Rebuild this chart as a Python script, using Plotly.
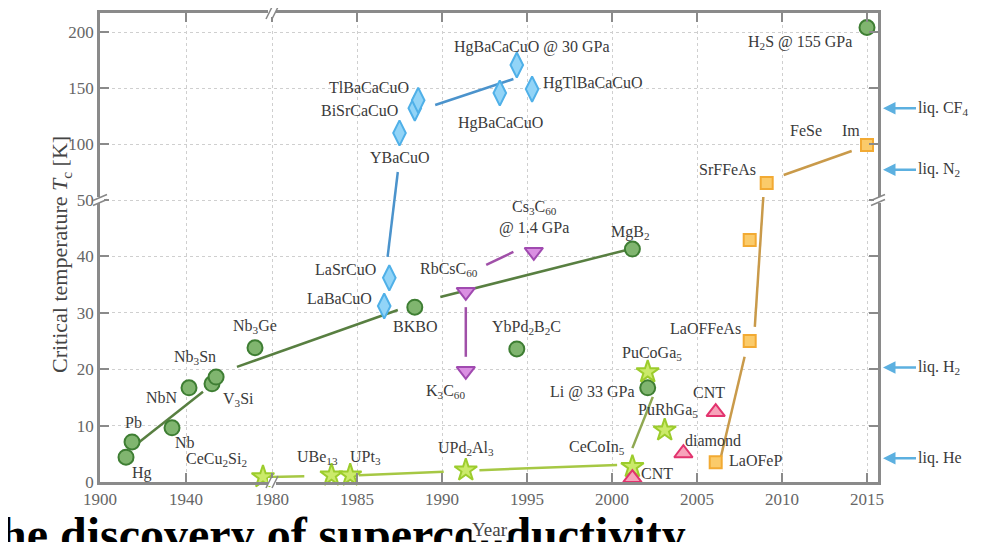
import plotly.graph_objects as go

# ---------------- data (year, Tc in K) ----------------
conv_names = ["Hg", "Pb", "Nb", "NbN", "V<sub>3</sub>Si", "Nb<sub>3</sub>Sn", "Nb<sub>3</sub>Ge", "BKBO",
              "YbPd<sub>2</sub>B<sub>2</sub>C", "MgB<sub>2</sub>", "Li @ 33 GPa", "H<sub>2</sub>S @ 155 GPa"]
conv_year = [1912.1, 1914.9, 1933.5, 1941.4, 1952.1, 1954.0, 1972.1, 1988.4, 1994.4, 2001.2, 2002.1, 2015.0]
conv_tc = [4.4, 7.1, 9.6, 16.7, 17.4, 18.6, 23.8, 31.0, 23.6, 41.3, 16.7, 204]

cup_names = ["LaBaCuO", "LaSrCuO", "YBaCuO", "BiSrCaCuO", "TlBaCaCuO", "HgBaCaCuO",
             "HgBaCaCuO @ 30 GPa", "HgTlBaCaCuO"]
cup_year = [1986.6, 1986.9, 1987.5, 1988.4, 1988.6, 1993.4, 1994.4, 1995.3]
cup_tc = [31.2, 36.2, 109.8, 132, 139, 145.5, 170.5, 149]

ful_names = ["RbCsC<sub>60</sub>", "K<sub>3</sub>C<sub>60</sub>", "Cs<sub>3</sub>C<sub>60</sub><br>@ 1.4 GPa"]
ful_year = [1991.4, 1991.4, 1995.4]
ful_tc = [33.7, 19.7, 40.8]

hf_names = ["CeCu<sub>2</sub>Si<sub>2</sub>", "UBe<sub>13</sub>", "UPt<sub>3</sub>", "UPd<sub>2</sub>Al<sub>3</sub>",
            "CeCoIn<sub>5</sub>", "PuCoGa<sub>5</sub>", "PuRhGa<sub>5</sub>"]
hf_year = [1975.8, 1983.5, 1984.6, 1991.4, 2001.2, 2002.1, 2003.1]
hf_tc = [0.9, 1.2, 1.2, 2.1, 2.7, 19.5, 9.2]

carb_names = ["CNT", "diamond", "CNT"]
carb_year = [2001.2, 2004.2, 2006.1]
carb_tc = [0.7, 5.1, 12.4]

fe_names = ["LaOFeP", "LaOFFeAs", "", "SrFFeAs", "FeSe\u00a0\u00a0\u00a0\u00a0\u00a0Im"]
fe_year = [2006.1, 2008.1, 2008.1, 2009.1, 2015.0]
fe_tc = [3.5, 25.0, 42.9, 65.2, 99.1]

# trend lines (pairs of endpoints)
conv_line_year = [[1917.7, 1947.9], [1963.7, 1987.4], [1989.9, 2000.8]]
conv_line_tc = [[6.9, 16.0], [20.4, 30.5], [32.8, 41.1]]
cup_line_year = [[1986.8, 1987.4], [1989.6, 1994.2]]
cup_line_tc = [[39.9, 75.0], [134.8, 158.0]]
ful_line_year = [[1991.4, 1991.4], [1992.6, 1994.2]]
ful_line_tc = [[31.0, 22.2], [38.5, 40.8]]
hf_line_year = [[1979.1, 1981.9], [1985.1, 1990.1], [1992.2, 2000.3]]
hf_line_tc = [[0.9, 1.0], [1.2, 1.8], [2.1, 3.0]]
hf2_line_year = [[2001.2, 2002.4]]
hf2_line_tc = [[6.0, 15.1]]
fe_line_year = [[2006.4, 2007.8], [2008.4, 2008.9], [2010.1, 2014.1]]
fe_line_tc = [[4.4, 22.2], [27.5, 52.7], [72.3, 93.75]]

ref_names = ["liq. He", "liq. H<sub>2</sub>", "liq. N<sub>2</sub>", "liq. CF<sub>4</sub>"]
ref_tc = [4.2, 20.3, 77, 132]

x_ticks = [1900, 1940, 1980, 1985, 1990, 1995, 2000, 2005, 2010, 2015]
y_ticks = [0, 10, 20, 30, 40, 50, 100, 150, 200]

# ---------------- broken-axis scales ----------------
X0, X_BREAK, X_LEFT_RATE, X_RIGHT_RATE = 1900, 1980, 2.15, 17.0
Y_BREAK, Y_LOW_RATE, Y_HIGH_RATE = 50, 5.64, 1.12
W, H = 778, 469                 # plot area size in px
PAGE_OFF = 8                    # default body margin of the html page
PL, PB = 100, 482               # plot left / bottom on the page
FIG_W, FIG_H = 981 - PAGE_OFF, 542 - PAGE_OFF
ML, MT = PL - PAGE_OFF, (PB - H) - PAGE_OFF


def fx(year):
    if year <= X_BREAK:
        return (year - X0) * X_LEFT_RATE
    return (X_BREAK - X0) * X_LEFT_RATE + (year - X_BREAK) * X_RIGHT_RATE


def fy(tc):
    if tc <= Y_BREAK:
        return tc * Y_LOW_RATE
    return Y_BREAK * Y_LOW_RATE + (tc - Y_BREAK) * Y_HIGH_RATE


def page_x(px):
    return (px - PL) / W


def page_y(py):
    return (PB - py) / H


def seg_xy(years, tcs):
    xs, ys = [], []
    for yr, tc in zip(years, tcs):
        xs += [fx(v) for v in yr] + [None]
        ys += [fy(v) for v in tc] + [None]
    return xs, ys


FONT = "Liberation Serif"
fig = go.Figure()

# trend lines
line_sets = [
    (conv_line_year, conv_line_tc, "#587f41"),
    (cup_line_year, cup_line_tc, "#4b93cc"),
    (ful_line_year, ful_line_tc, "#a050a8"),
    (hf_line_year, hf_line_tc, "#a6c844"),
    (hf2_line_year, hf2_line_tc, "#8fa852"),
    (fe_line_year, fe_line_tc, "#c99a4a"),
]
for yrs, tcs, col in line_sets:
    xs, ys = seg_xy(yrs, tcs)
    fig.add_trace(go.Scatter(x=xs, y=ys, mode="lines", line=dict(color=col, width=2.5),
                             hoverinfo="skip", showlegend=False))

groups = [
    ("conv", conv_names, conv_year, conv_tc, "circle", 15, "#80b56f", "#3e7e33"),
    ("cup", cup_names, cup_year, cup_tc, "diamond-tall", 18, "#92d4f7", "#4fb0e8"),
    ("ful", ful_names, ful_year, ful_tc, "triangle-down", 16, "#da8fe2", "#a04ab0"),
    ("hf", hf_names, hf_year, hf_tc, "star", 17, "#cbea6a", "#9ccc2c"),
    ("carb", carb_names, carb_year, carb_tc, "triangle-up", 16, "#f7a3ba", "#e2336e"),
    ("fe", fe_names, fe_year, fe_tc, "square", 12, "#fbcb6a", "#f2aa33"),
]

# label offsets in pixels (dx right, dy down) relative to each marker
LABEL_OFFSETS = {
    "conv": [(16, 16), (1, -19), (13, 15), (-27, 10), (26, 16), (-21, -20), (0, -21), (0, 19),
             (10, -21), (-2, -17), (-55, 4), (-67, 15)],
    "cup": [(-45, -8), (-44, -8), (0, 24), (-55, 2), (-49, -13), (1, 30), (15, -18), (61, -6)],
    "ful": [(-17, -22), (-20, 21), (0, -34)],
    "hf": [(-46, -17), (-14, -18), (15, -18), (0, -22), (-35, -19), (4, -19), (3, -20)],
    "carb": [(25, -5), (30, -13), (-7, -20)],
    "fe": [(40, -2), (-44, -13), (0, 0), (-39, -13), (-42, -15)],
}

annotations = []
# background slide title (cut off at the bottom of the picture)
annotations.append(dict(x=page_x(-2), y=page_y(506), xref="paper", yref="paper", xanchor="left",
                        yanchor="top", text="<b>he discovery of superconductivity</b>", showarrow=False,
                        font=dict(family=FONT, size=48, color="#000")))

for key, names, yrs, tcs, sym, size, fill, edge in groups:
    fig.add_trace(go.Scatter(
        x=[fx(v) for v in yrs], y=[fy(v) for v in tcs], mode="markers",
        marker=dict(symbol=sym, size=size, color=fill, line=dict(color=edge, width=2)),
        cliponaxis=False, hoverinfo="skip", showlegend=False))
    for name, yr, tc, (dx, dy) in zip(names, yrs, tcs, LABEL_OFFSETS[key]):
        if not name:
            continue
        annotations.append(dict(x=fx(yr), y=fy(tc), xref="x", yref="y", text=name, showarrow=False,
                                xshift=dx, yshift=-dy, font=dict(family=FONT, size=16, color="#3a3a3a")))

# reference arrows on right
for name, tc in zip(ref_names, ref_tc):
    annotations.append(dict(x=page_x(883), xref="paper", y=fy(tc), yref="y", text=name,
                            showarrow=True, ax=33, ay=0, xanchor="left", arrowhead=2, arrowsize=1,
                            arrowwidth=2.5, arrowcolor="#5cb0e0", standoff=0,
                            font=dict(family=FONT, size=16, color="#3a3a3a")))

# axis titles
annotations.append(dict(x=page_x(45), y=page_y(255), xref="paper", yref="paper", textangle=-90,
                        text="Critical temperature <i>T</i><sub>c</sub> [K]", showarrow=False,
                        font=dict(family=FONT, size=22, color="#444")))
annotations.append(dict(x=page_x(490), y=page_y(541), xref="paper", yref="paper", yanchor="bottom",
                        text="Year", showarrow=False, bgcolor="white", borderpad=0,
                        font=dict(family=FONT, size=19, color="#444")))

# axis break marks
shapes = []


def to_paper(u, v):
    return u / W, v / H


def break_mark(u, v, horizontal_axis):
    # u, v in plot units (pixels from plot origin)
    if horizontal_axis:
        x0, y0 = to_paper(u - 4, v - 4)
        x1, y1 = to_paper(u + 4, v + 4)
        shapes.append(dict(type="rect", xref="paper", yref="paper", x0=x0, x1=x1, y0=y0, y1=y1,
                           fillcolor="white", line=dict(width=0)))
        for d in (-3, 3):
            a = to_paper(u + d - 3, v - 6)
            b = to_paper(u + d + 3, v + 6)
            shapes.append(dict(type="line", xref="paper", yref="paper", x0=a[0], y0=a[1], x1=b[0], y1=b[1],
                               line=dict(color="#888", width=1.5)))
    else:
        x0, y0 = to_paper(u - 4, v - 3)
        x1, y1 = to_paper(u + 4, v + 3)
        shapes.append(dict(type="rect", xref="paper", yref="paper", x0=x0, x1=x1, y0=y0, y1=y1,
                           fillcolor="white", line=dict(width=0)))
        for d in (-2.5, 2.5):
            a = to_paper(u - 7, v + d - 3)
            b = to_paper(u + 7, v + d + 3)
            shapes.append(dict(type="line", xref="paper", yref="paper", x0=a[0], y0=a[1], x1=b[0], y1=b[1],
                               line=dict(color="#888", width=1.5)))


break_mark(fx(X_BREAK), 0, True)
break_mark(fx(X_BREAK), H, True)
break_mark(0, fy(Y_BREAK), False)
break_mark(W, fy(Y_BREAK), False)

axis_common = dict(showline=True, linecolor="#8a8a8a", linewidth=2.5, mirror="ticks", ticks="inside",
                   ticklen=9, tickwidth=1.5, tickcolor="#8a8a8a", showgrid=True, gridcolor="#cfcfcf",
                   griddash="dot", gridwidth=1.2, zeroline=False, automargin=False,
                   tickfont=dict(family=FONT, size=17, color="#666"))

fig.update_layout(
    width=FIG_W, height=FIG_H, margin=dict(l=ML, r=FIG_W - ML - W, t=MT, b=FIG_H - MT - H, pad=0),
    paper_bgcolor="white", plot_bgcolor="white",
    xaxis=dict(range=[0, W], tickvals=[fx(v) for v in x_ticks], ticktext=[str(v) for v in x_ticks],
               **axis_common),
    yaxis=dict(range=[0, H], tickvals=[fy(v) for v in y_ticks], ticktext=[str(v) for v in y_ticks],
               **axis_common),
    annotations=annotations, shapes=shapes,
)

fig.write_html("out.html")
